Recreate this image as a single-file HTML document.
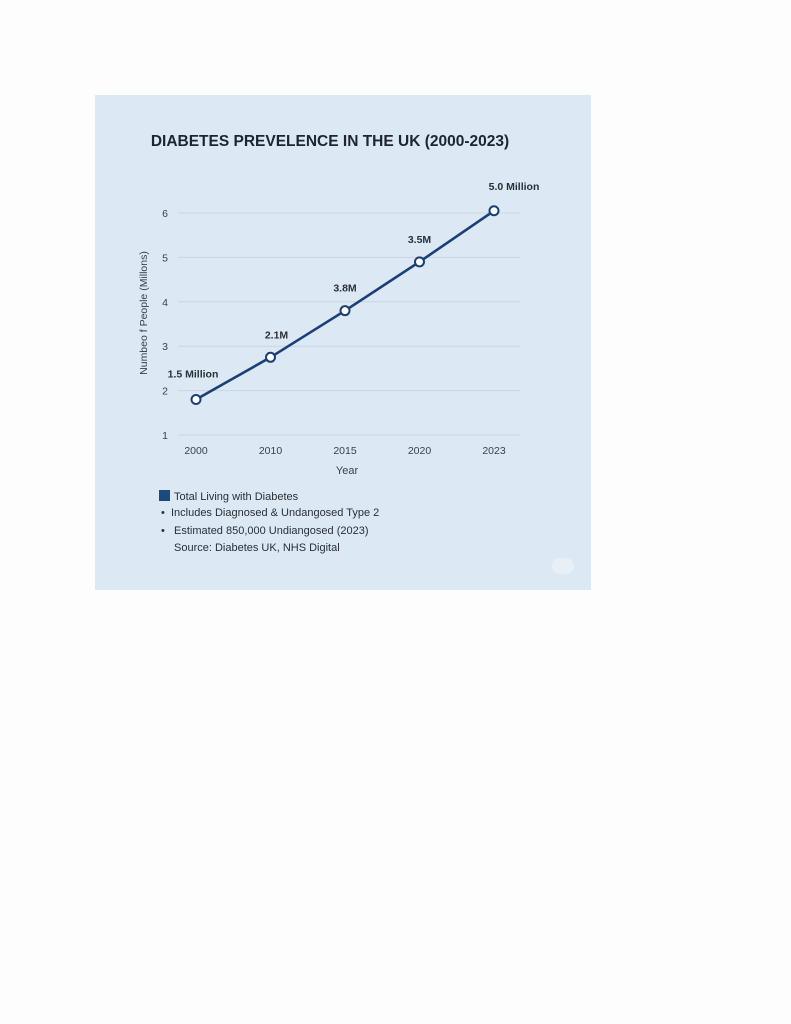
<!DOCTYPE html>
<html><head><meta charset="utf-8"><style>
body{margin:0;width:791px;height:1024px;background:#fdfdfd;position:relative;font-family:"Liberation Sans",sans-serif;overflow:hidden}
#panel{position:absolute;left:95px;top:95px;width:496px;height:495px;background:#dce8f3}
.t{position:absolute;font-size:11px;color:#2a2f38;white-space:nowrap}
</style></head><body>
<div id="panel"></div>
<svg width="791" height="1024" style="position:absolute;left:0;top:0">
<text x="330" y="146" text-anchor="middle" font-size="15.5" font-weight="bold" fill="#1f2530">DIABETES PREVELENCE IN THE UK (2000-2023)</text>
<g id="grid"></g><g id="series"></g>
<text x="347" y="474" text-anchor="middle" font-size="11" fill="#3a4150">Year</text>
<text transform="translate(147,313) rotate(-90)" text-anchor="middle" font-size="10.5" fill="#3a4150">Numbeo f People (Millons)</text>
</svg>
<div class="t" style="left:159px;top:490px"><span style="display:inline-block;width:11px;height:11px;background:#1a4a80;vertical-align:-1px;margin-right:4px"></span>Total Living with Diabetes</div>
<div class="t" style="left:161px;top:507px">•&nbsp; Includes Diagnosed &amp; Undangosed Type 2</div>
<div class="t" style="left:161px;top:525px">•&nbsp;&nbsp; Estimated 850,000 Undiangosed (2023)</div>
<div class="t" style="left:174px;top:542px">Source: Diabetes UK, NHS Digital</div>
<div style="position:absolute;left:552px;top:558px;width:22px;height:16px;border-radius:8px;background:#e8eff7"></div>
<script>
const categories=["2000","2010","2015","2020","2023"];
const values=[1.8,2.75,3.8,4.9,6.05];
const pointLabels=["1.5 Million","2.1M","3.8M","3.5M","5.0 Million"];
const yTicks=[1,2,3,4,5,6];
const NS="http://www.w3.org/2000/svg";
const x=i=>196+i*74.5;
const y=v=>435-(v-1)*44.4;
const grid=document.getElementById('grid'),ser=document.getElementById('series');
function mk(tag,attrs,parent,txt){const e=document.createElementNS(NS,tag);for(const k in attrs)e.setAttribute(k,attrs[k]);if(txt!==undefined)e.textContent=txt;parent.appendChild(e);return e;}
yTicks.forEach(t=>{
 const l=mk('line',{x1:178,x2:520,y1:y(t),y2:y(t),stroke:'#c8d6e4','stroke-width':1},grid);
 
 
 const tx=mk('text',{x:168,y:y(t)+4,'text-anchor':'end','font-size':10.5,fill:'#3a4150'},grid,t);
 
 
});
categories.forEach((c,i)=>{
 const tx=mk('text',{x:x(i),y:454,'text-anchor':'middle','font-size':10.5,fill:'#3a4150'},grid,c);
 
 
});
const pl=mk('polyline',{points:values.map((v,i)=>x(i)+','+y(v)).join(' '),fill:'none',stroke:'#1a3f78','stroke-width':2.6},ser);


const offs=[[-3,-22],[6,-19],[0,-19],[0,-19],[20,-21]];
values.forEach((v,i)=>{
 const c=mk('circle',{cx:x(i),cy:y(v),r:4.5,fill:'#fff',stroke:'#1a3f78','stroke-width':2},ser);
 
 
 const t=mk('text',{x:x(i)+offs[i][0],y:y(v)+offs[i][1],'text-anchor':'middle','font-size':10.5,'font-weight':'bold',fill:'#2a2f38'},ser,pointLabels[i]);
 
 
});
</script>
</body></html>
